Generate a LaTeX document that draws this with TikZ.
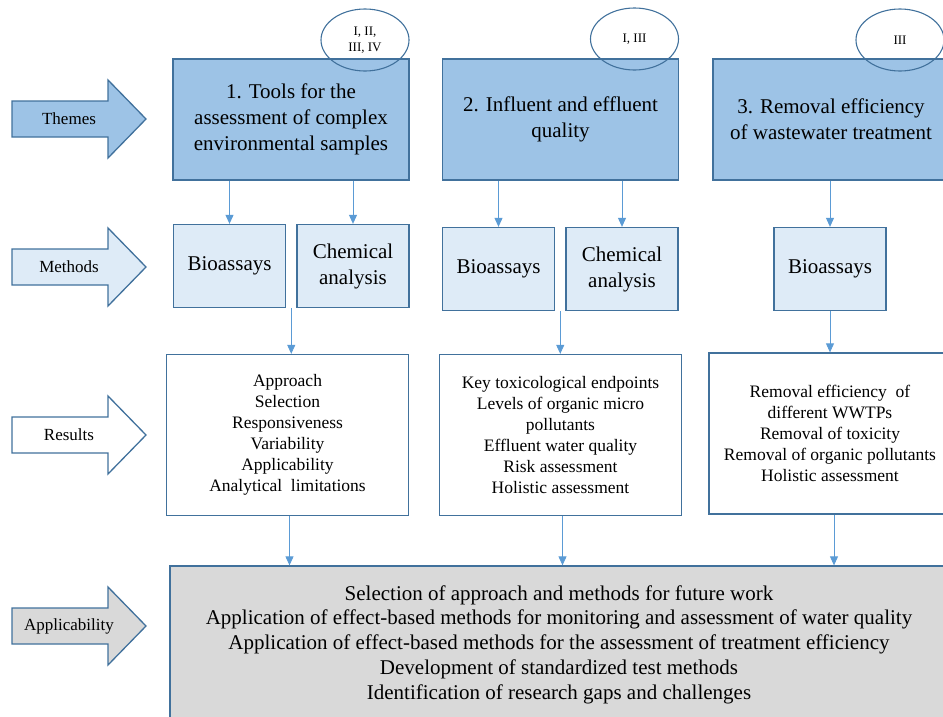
\documentclass[tikz,border=0pt]{standalone}
\usepackage{fontspec}
\setmainfont{Liberation Serif}
\usetikzlibrary{arrows.meta,shapes.geometric,calc}

\definecolor{themefill}{HTML}{9DC3E6}
\definecolor{methfill}{HTML}{DEEBF7}
\definecolor{appfill}{HTML}{D9D9D9}
\definecolor{edgeblue}{HTML}{41719C}
\definecolor{linkblue}{HTML}{5B9BD5}

\tikzset{
  box/.style={draw=edgeblue, line width=1.3pt, inner sep=0pt, align=center},
  themebox/.style={box, fill=themefill, minimum width=236pt, minimum height=121pt,
    font=\fontsize{21}{26}\selectfont},
  methbox/.style={box, fill=methfill, minimum width=112pt, minimum height=83pt,
    font=\fontsize{21}{26}\selectfont},
  resbox/.style={box, fill=white, minimum width=242pt, minimum height=161pt,
    font=\fontsize{17.5}{21}\selectfont},
  appbox/.style={box, fill=appfill, minimum width=778pt, minimum height=157pt,
    font=\fontsize{21}{24.7}\selectfont},
  paperoval/.style={ellipse, draw=edgeblue, line width=1.1pt, minimum width=88pt,
    minimum height=62pt, inner sep=0pt, align=center, font=\fontsize{13}{16}\selectfont},
  sidelabel/.style={inner sep=0pt, font=\fontsize{17}{20}\selectfont},
  link/.style={draw=linkblue, line width=0.9pt, -{Triangle[width=8pt,length=9pt]}}
}

% row arrow on the left: name, middle y, fill, text
\newcommand{\rowarrow}[4]{%
  \draw[edgeblue, line width=1.3pt, fill=#3]
    (12,#2-18) -- (108,#2-18) -- (108,#2-39) -- (146,#2)
    -- (108,#2+39) -- (108,#2+18) -- (12,#2+18) -- cycle;
  \node[sidelabel] (#1) at (69,#2) {#4};}

\begin{document}
\begin{tikzpicture}[x=1pt, y=-1pt]
  \useasboundingbox (0,0) rectangle (943,716);
  \clip (0,0) rectangle (943,716);

  % rows
  \rowarrow{themes}{119}{themefill}{Themes}
  \rowarrow{methods}{267}{methfill}{Methods}
  \rowarrow{results}{435}{white}{Results}
  \rowarrow{applic}{626}{appfill}{Applicability}

  % themes
  \node[themebox] (thm1) at (291,119.5) {1. Tools for the\\assessment of complex\\environmental samples};
  \node[themebox] (thm2) at (560.5,119.5) {2. Influent and effluent\\quality};
  \node[themebox] (thm3) at (831,119.5) {3. Removal efficiency\\of wastewater treatment};

  \node[paperoval] (pap1) at (365,40) {I, II,\\III, IV};
  \node[paperoval] (pap2) at (634.5,39) {I, III};
  \node[paperoval] (pap3) at (900,40) {III};

  % methods
  \node[methbox] (bio1) at (229.5,266) {Bioassays};
  \node[methbox] (chem1) at (353,266) {Chemical\\analysis};
  \node[methbox] (bio2) at (498.5,269) {Bioassays};
  \node[methbox] (chem2) at (622,269) {Chemical\\analysis};
  \node[methbox] (bio3) at (830,269) {Bioassays};

  % results
  \node[resbox] (res1) at (287.5,435) {Approach\\Selection\\Responsiveness\\Variability\\Applicability\\Analytical\ \ limitations};
  \node[resbox] (res2) at (560.5,435) {Key toxicological endpoints\\Levels of organic micro\\pollutants\\Effluent water quality\\Risk assessment\\Holistic assessment};
  \node[resbox] (res3) at (830,433.5) {Removal efficiency\ \ of\\different WWTPs\\Removal of toxicity\\Removal of organic pollutants\\Holistic assessment};

  % applicability
  \node[appbox] (app) at (559,644.5) {Selection of approach and methods for future work\\
    Application of effect-based methods for monitoring and assessment of water quality\\
    Application of effect-based methods for the assessment of treatment efficiency\\
    Development of standardized test methods\\
    Identification of research gaps and challenges};

  \coordinate (mid1) at ($(bio1.south east)!0.5!(chem1.south west)$);
  \coordinate (mid2) at ($(bio2.south east)!0.5!(chem2.south west)$);

  \draw[link] (thm1.south -| bio1) -- (bio1);
  \draw[link] (thm1.south -| chem1) -- (chem1);
  \draw[link] (thm2.south -| bio2) -- (bio2);
  \draw[link] (thm2.south -| chem2) -- (chem2);
  \draw[link] (thm3.south -| bio3) -- (bio3);

  \draw[link] (mid1) -- (mid1 |- res1.north);
  \draw[link] (mid2) -- (mid2 |- res2.north);
  \draw[link] (bio3) -- (res3);

  \draw[link] ([xshift=2pt]res1.south) -- ([xshift=2pt]res1.south |- app.north);
  \draw[link] ([xshift=2pt]res2.south) -- ([xshift=2pt]res2.south |- app.north);
  \draw[link] ([xshift=4pt]res3.south) -- ([xshift=4pt]res3.south |- app.north);
\end{tikzpicture}
\end{document}
